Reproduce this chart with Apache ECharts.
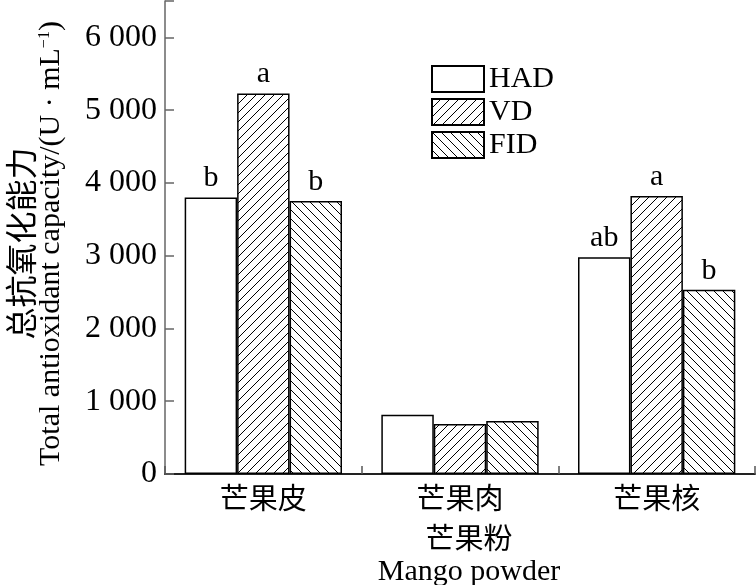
<!DOCTYPE html>
<html><head><meta charset="utf-8">
<script src="https://cdn.jsdelivr.net/npm/echarts@6/dist/echarts.min.js"></script>
<style>html,body{margin:0;padding:0;background:#fff}#c{width:756px;height:585px}</style>
</head><body><div id="c"></div>
<script>
var categories = ['芒果皮', '芒果肉', '芒果核'];
var seriesNames = ['HAD', 'VD', 'FID'];
var hadValues = [3800, 813, 2980];
var vdValues = [5230, 686, 3822];
var fidValues = [3750, 727, 2532];
var hadLetters = ['b', '', 'ab'];
var vdLetters = ['a', '', 'a'];
var fidLetters = ['b', '', 'b'];
var yTicks = [0, 1000, 2000, 3000, 4000, 5000, 6000];

function hatch(dir) {
  var s = 9, c = document.createElement('canvas');
  c.width = s; c.height = s;
  var g = c.getContext('2d');
  g.fillStyle = '#fff'; g.fillRect(0, 0, s, s);
  g.strokeStyle = '#000'; g.lineWidth = 1;
  g.beginPath();
  if (dir > 0) {
    g.moveTo(-1, s + 1); g.lineTo(s + 1, -1);
    g.moveTo(-1, 1); g.lineTo(1, -1);
    g.moveTo(s - 1, s + 1); g.lineTo(s + 1, s - 1);
  } else {
    g.moveTo(-1, -1); g.lineTo(s + 1, s + 1);
    g.moveTo(s - 1, -1); g.lineTo(s + 1, 1);
    g.moveTo(-1, s - 1); g.lineTo(1, s + 1);
  }
  g.stroke();
  return c;
}

var serif = 'Liberation Serif';
var cjk = 'Noto Sans CJK SC';

function mk(name, vals, letters, fill) {
  return {
    name: name, type: 'bar', data: vals,
    barGap: '0%', barCategoryGap: '20%',
    itemStyle: { color: fill, borderColor: '#000', borderWidth: 1.5 },
    label: {
      show: true, position: 'top', distance: 4,
      formatter: function (p) { return letters[p.dataIndex]; },
      fontFamily: serif, fontSize: 30, color: '#000'
    }
  };
}

var chart = echarts.init(document.getElementById('c'));
chart.setOption({
  animation: false,
  backgroundColor: '#fff',
  grid: { left: 165, right: 1, top: 1, bottom: 111, outerBoundsMode: 'none', containLabel: false },
  legend: {
    orient: 'vertical', left: 426, top: 59,
    itemWidth: 52, itemHeight: 26, itemGap: 3, icon: 'rect',
    textStyle: { fontFamily: serif, fontSize: 30, color: '#000' },
    data: seriesNames
  },
  xAxis: {
    type: 'category', data: categories,
    axisLine: { lineStyle: { color: '#222', width: 2 } },
    axisTick: { show: true, inside: true, length: 8, lineStyle: { color: '#555', width: 1.5 } },
    axisLabel: { fontFamily: cjk, fontSize: 29, color: '#000', margin: 9 },
    name: '{cn|芒果粉}\n{en|Mango powder}',
    nameLocation: 'middle', nameGap: 46,
    nameTextStyle: {
      padding: [0, 0, 0, 18],
      rich: {
        cn: { fontFamily: cjk, fontSize: 29, color: '#000', lineHeight: 36 },
        en: { fontFamily: serif, fontSize: 30, color: '#000', lineHeight: 32 }
      }
    }
  },
  yAxis: {
    type: 'value', min: 0, max: 6500, interval: 1000,
    splitLine: { show: false },
    axisLine: { show: true, lineStyle: { color: '#666', width: 1.5 } },
    axisTick: { show: true, inside: true, length: 9, lineStyle: { color: '#666', width: 1.5 } },
    axisLabel: {
      fontFamily: serif, fontSize: 32, color: '#000', margin: 8,
      formatter: function (v) {
        if (yTicks.indexOf(v) < 0) return '';
        return v >= 1000 ? Math.floor(v / 1000) + ' ' + String(v % 1000).padStart(3, '0') : String(v);
      }
    },
    name: '{cn|总抗氧化能力}\n{en|Total antioxidant capacity/(U · mL}{sup|−1}{en|)}',
    nameLocation: 'middle', nameRotate: 90, nameGap: 99,
    nameTextStyle: {
      padding: [0, 12, 0, 0],
      rich: {
        cn: { fontFamily: cjk, fontSize: 32, color: '#000', lineHeight: 32 },
        en: { fontFamily: serif, fontSize: 30, color: '#000', lineHeight: 29 },
        sup: { fontFamily: serif, fontSize: 16, color: '#000', lineHeight: 29, verticalAlign: 'top' }
      }
    }
  },
  series: [
    mk('HAD', hadValues, hadLetters, '#fff'),
    mk('VD', vdValues, vdLetters, { image: hatch(1), repeat: 'repeat' }),
    mk('FID', fidValues, fidLetters, { image: hatch(-1), repeat: 'repeat' })
  ]
});
</script></body></html>
